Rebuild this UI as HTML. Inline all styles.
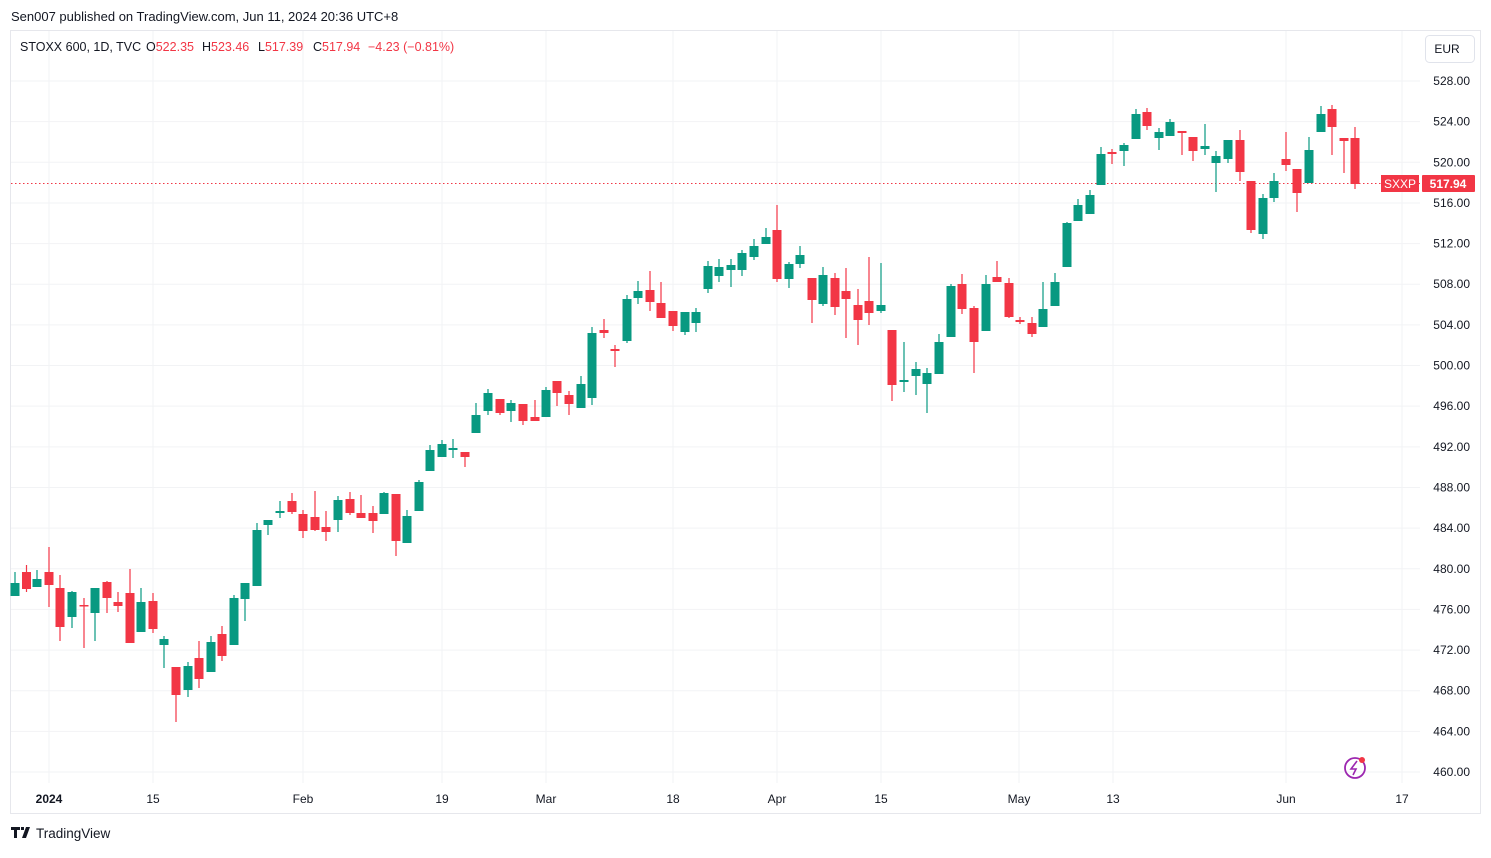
<!DOCTYPE html>
<html><head><meta charset="utf-8"><style>
body{margin:0;background:#fff;width:1491px;height:853px;overflow:hidden;font-family:"Liberation Sans",sans-serif}
</style></head><body>
<svg id="s" width="1491" height="853" xmlns="http://www.w3.org/2000/svg" font-family="Liberation Sans, sans-serif">
<rect width="1491" height="853" fill="#fff"/>
<text x="11" y="21" font-size="13" fill="#131722">Sen007 published on TradingView.com, Jun 11, 2024 20:36 UTC+8</text>
<rect x="10.5" y="30.5" width="1470" height="783" fill="none" stroke="#e6e7ec" stroke-width="1"/>
<g id="grid"></g>
<line x1="11" y1="183.5" x2="1420" y2="183.5" stroke="#f23645" stroke-dasharray="1.5,2.5" stroke-width="1"/>
<g id="c"></g>
<text y="51" font-size="12.5" fill="#131722"><tspan x="20">STOXX 600, 1D, TVC</tspan><tspan x="146">O</tspan><tspan fill="#f23645">522.35</tspan><tspan x="202">H</tspan><tspan fill="#f23645">523.46</tspan><tspan x="258">L</tspan><tspan fill="#f23645">517.39</tspan><tspan x="313">C</tspan><tspan fill="#f23645">517.94</tspan><tspan x="368" fill="#f23645">−4.23 (−0.81%)</tspan></text>
<rect x="1425.5" y="35.5" width="49" height="27" rx="4" fill="#fff" stroke="#e0e3eb"/>
<text x="1447" y="53" font-size="12" fill="#131722" text-anchor="middle">EUR</text>
<g id="py" font-size="12" fill="#131722"></g>
<rect x="1381" y="175" width="38" height="17" fill="#f23645"/>
<text x="1400" y="188" font-size="12" fill="#fff" text-anchor="middle">SXXP</text>
<rect x="1422" y="175" width="53" height="17" fill="#f23645" rx="1"/>
<text x="1448" y="188" font-size="12" fill="#fff" text-anchor="middle" font-weight="bold">517.94</text>
<g font-size="12" fill="#131722" text-anchor="middle">
<text x="49" y="803" font-weight="bold">2024</text><text x="153" y="803">15</text><text x="303" y="803">Feb</text><text x="442" y="803">19</text><text x="546" y="803">Mar</text><text x="673" y="803">18</text><text x="777" y="803">Apr</text><text x="881" y="803">15</text><text x="1019" y="803">May</text><text x="1113" y="803">13</text><text x="1286" y="803">Jun</text><text x="1402" y="803">17</text>
</g>
<circle cx="1355" cy="768" r="10" fill="none" stroke="#9c27b0" stroke-width="1.8"/>
<path d="M1357 761 L1351 769 L1356 769 L1353 775" fill="none" stroke="#9c27b0" stroke-width="1.6"/>
<circle cx="1362" cy="760" r="3" fill="#f23645"/>
<path d="M11 827 h9 v3 h-3 v8 h-3 v-8 h-3z M21 827 h3 v3 h-3z M26 827 h4 l-4 11 h-4z" fill="#131722"/>
<text x="36" y="838" font-size="13.5" fill="#131722">TradingView</text>
</svg>
<script>
const NS="http://www.w3.org/2000/svg";
function el(p,t,a){const e=document.createElementNS(NS,t);for(const k in a)e.setAttribute(k,a[k]);p.appendChild(e);return e;}
const g=document.getElementById('grid'),py=document.getElementById('py');
for(let p=460;p<=528;p+=4){const y=81+(528-p)*10.162;el(g,'line',{x1:11,x2:1420,y1:y,y2:y,stroke:'#f2f3f5'});const t=el(py,'text',{x:1470,y:y+4,'text-anchor':'end'});t.textContent=p.toFixed(2);}
[49,153,303,442,546,673,777,881,1019,1113,1286,1402].forEach(x=>el(g,'line',{x1:x,x2:x,y1:31,y2:783,stroke:'#f2f3f5'}));
const G='#089981',R='#f23645';
const d=[
[15,572,583,596,596,G],[26.5,565,572,589,592,R],[37,570,579,587,587,G],[49,547,572,585,607,R],[60,575,588,627,641,R],[72,591,592,617,628,G],[84,598,605,606,648,R],[95,588,588,613,641,G],[107,581,582,598,613,R],[118,592,602,606,612,R],[130,569,593,643,643,R],[141,588,602,632,632,G],[153,593,601,629,633,R],[164,636,639,645,668,G],[176,667,667,695,722,R],[188,662,666,690,697,G],[199,641,658,679,688,R],[211,636,642,672,672,G],[222,626,634,656,661,R],[234,595,598,645,645,G],[245,583,583,599,621,G],[257,523,530,586,586,G],[268,520,520,525,535,G],[280,501,511,513,518,G],[292,493,501,512,514,R],[303,510,514,531,538,R],[315,491,517,530,531,R],[326,511,527,532,541,R],[338,496,500,520,532,G],[350,492,499,513,515,R],[361,495,513,518,518,R],[373,506,513,521,533,R],[384,492,493,514,514,G],[396,494,494,541,556,R],[407,510,516,543,543,G],[419,480,482,511,511,G],
[430,445,450,471,471,G],[442,440,444,457,457,G],[453,439,448,450,458,G],[465,452,452,457,467,R],
[476,403,415,433,433,G],[488,389,393,411,415,G],[500,399,399,413,415,R],[511,400,403,411,422,G],[523,404,404,421,425,R],[535,400,417,421,421,R],[546,387,390,417,417,G],[557,381,381,393,406,R],[569,391,395,404,415,R],[581,376,384,408,408,G],[592,327,333,398,405,G],[604,319,330,333,338,R],[615,345,349,351,367,R],[627,295,299,341,343,G],[638,281,291,298,304,G],[650,271,290,302,311,R],[661,282,303,318,318,R],[673,311,311,326,331,R],[685,312,312,332,335,G],[696,308,312,323,332,G],[708,261,266,289,293,G],[719,259,267,276,282,G],[731,259,265,270,287,G],[742,250,253,270,276,G],[754,239,246,257,260,G],[766,228,237,244,244,G],[777,205,230,279,282,R],[789,262,264,279,288,G],[800,246,255,264,268,G],[812,278,278,300,323,R],[823,267,275,304,306,G],[835,273,278,307,315,R],[846,268,291,299,338,R],[858,289,305,320,345,R],[869,257,301,313,325,R],[881,263,305,311,313,G],
[892,330,330,385,401,R],[904,342,380,382,392,G],[916,362,369,376,395,G],[927,368,373,384,413,G],[939,334,342,374,374,G],[951,284,286,337,337,G],[962,274,284,309,314,R],[974,306,308,342,373,R],[986,275,284,331,331,G],[997,261,277,282,282,R],[1009,278,283,317,318,R],[1020,317,320,322,324,R],[1032,317,323,334,337,R],[1043,282,309,327,327,G],[1055,273,282,306,306,G],[1067,222,223,267,267,G],[1078,199,205,221,221,G],[1090,190,195,214,214,G],[1101,147,154,185,185,G],[1112,149,152,154,164,R],[1124,143,145,151,166,G],[1136,109,114,139,139,G],[1147,108,112,126,130,R],[1159,128,132,138,150,G],[1170,119,122,136,136,G],[1182,131,131,133,155,R],[1193,137,137,151,161,R],[1205,124,146,149,155,G],[1216,151,156,163,192,G],[1228,140,140,159,163,G],[1240,130,140,172,181,R],[1251,181,181,230,233,R],[1263,194,198,234,239,G],[1274,173,181,198,202,G],[1286,132,159,165,171,R],[1297,169,169,193,212,R],[1309,137,150,183,183,G],[1321,106,114,132,132,G],[1332,105,109,127,155,R],[1344,138,138,141,173,R],[1355,127,138,184,189,R]];
const c=document.getElementById('c');
d.forEach(([x,wt,bt,bb,wb,col])=>{
 el(c,'line',{x1:x,x2:x,y1:wt,y2:wb,stroke:col,'stroke-width':1.2});
 let h=Math.max(bb-bt,1.5);
 el(c,'rect',{x:x-4.5,y:bt,width:9,height:h,fill:col});
});
</script>
</body></html>
